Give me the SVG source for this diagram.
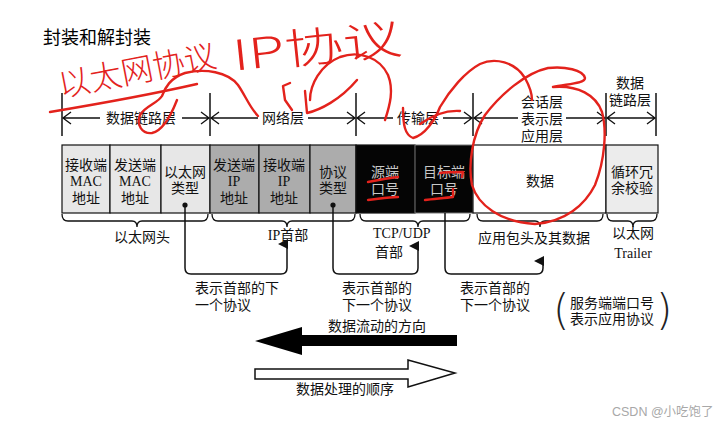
<svg xmlns="http://www.w3.org/2000/svg" width="723" height="422" viewBox="0 0 723 422">
<style>
  text { font-family: "Liberation Serif", "Noto Sans CJK SC", serif; font-size: 14px; fill: #111; }
  .c { text-anchor: middle; }
  .inv { fill: #c8c8c8; }
  .title { font-family: "Noto Sans CJK SC", "Liberation Sans", sans-serif; font-size: 18px; font-weight: 400; fill: #000; }
  .wm { font-family: "Liberation Sans", "Noto Sans CJK SC", sans-serif; font-size: 12.5px; fill: #a8a8a8; }
  .hand { font-family: "Noto Sans CJK SC", sans-serif; font-weight: 300; fill: #e3221c; }
  .paren { font-family: "DejaVu Sans", sans-serif; font-size: 42px; font-weight: 200; fill: #222; }
  .ln { stroke: #111; stroke-width: 1.3; fill: none; }
  .tick { stroke: #111; stroke-width: 1.5; }
  .brace { stroke: #111; stroke-width: 1.3; fill: none; }
  .red { stroke: #e3221c; stroke-width: 2.4; fill: none; stroke-linecap: round; stroke-linejoin: round; }
  .conn { stroke: #111; stroke-width: 1.5; fill: none; }
</style>
<defs>
  <marker id="ah" markerWidth="10" markerHeight="10" refX="5" refY="9" orient="auto-start-reverse" markerUnits="userSpaceOnUse" viewBox="0 0 10 10">
    <path d="M0,10 L5,0 L10,10 Z" fill="#111"/>
  </marker>
</defs>
<rect width="723" height="422" fill="#fff"/>

<text class="title" x="43" y="44">封装和解封装</text>

<!-- layer header -->
<g id="layers">
  <g class="tick">
    <line x1="62" y1="93" x2="62" y2="136"/>
    <line x1="210" y1="93" x2="210" y2="136"/>
    <line x1="356" y1="93" x2="356" y2="136"/>
    <line x1="473" y1="93" x2="473" y2="136"/>
    <line x1="606" y1="93" x2="606" y2="136"/>
    <line x1="656" y1="93" x2="656" y2="136"/>
  </g>
  <g class="ln">
    <path d="M63,118 H100 M71,112 L63,118 L71,124"/>
    <path d="M182,118 H209 M201,112 L209,118 L201,124"/>
    <path d="M211,118 H258 M219,112 L211,118 L219,124"/>
    <path d="M308,118 H355 M347,112 L355,118 L347,124"/>
    <path d="M357,118 H393 M365,112 L357,118 L365,124"/>
    <path d="M443,118 H472 M464,112 L472,118 L464,124"/>
    <path d="M474,118 H518 M482,112 L474,118 L482,124"/>
    <path d="M566,118 H605 M597,112 L605,118 L597,124"/>
    <path d="M607,118 H655 M615,112 L607,118 L615,124 M647,112 L655,118 L647,124"/>
  </g>
  <text class="c" x="141" y="123">数据链路层</text>
  <text class="c" x="283" y="123">网络层</text>
  <text class="c" x="418" y="123">传输层</text>
  <text class="c" x="542" y="107">会话层</text>
  <text class="c" x="542" y="124">表示层</text>
  <text class="c" x="542" y="141">应用层</text>
  <text class="c" x="630" y="88">数据</text>
  <text class="c" x="630" y="105">链路层</text>
</g>

<!-- packet cells -->
<g id="cell-dst-mac">
  <rect x="62" y="145" width="48" height="68" fill="#e7e7e7" stroke="#111" stroke-width="1.2"/>
  <text class="c" x="86" y="170">接收端</text><text class="c" x="86" y="186">MAC</text><text class="c" x="86" y="203">地址</text>
</g>
<g id="cell-src-mac">
  <rect x="110" y="145" width="51" height="68" fill="#e7e7e7" stroke="#111" stroke-width="1.2"/>
  <text class="c" x="135" y="170">发送端</text><text class="c" x="135" y="186">MAC</text><text class="c" x="135" y="203">地址</text>
</g>
<g id="cell-eth-type">
  <rect x="161" y="145" width="49" height="68" fill="#e7e7e7" stroke="#111" stroke-width="1.2"/>
  <text class="c" x="185" y="177">以太网</text><text class="c" x="185" y="193">类型</text>
  <circle cx="185" cy="205" r="2.6" fill="#111"/>
</g>
<g id="cell-src-ip">
  <rect x="210" y="145" width="49" height="68" fill="#acacac" stroke="#111" stroke-width="1.2"/>
  <text class="c" x="234" y="170">发送端</text><text class="c" x="234" y="186">IP</text><text class="c" x="234" y="203">地址</text>
</g>
<g id="cell-dst-ip">
  <rect x="259" y="145" width="51" height="68" fill="#acacac" stroke="#111" stroke-width="1.2"/>
  <text class="c" x="284" y="170">接收端</text><text class="c" x="284" y="186">IP</text><text class="c" x="284" y="203">地址</text>
</g>
<g id="cell-proto">
  <rect x="310" y="145" width="46" height="68" fill="#acacac" stroke="#111" stroke-width="1.2"/>
  <text class="c" x="333" y="177">协议</text><text class="c" x="333" y="193">类型</text>
  <circle cx="333" cy="205" r="2.6" fill="#111"/>
</g>
<g id="cell-src-port">
  <rect x="356" y="145" width="59" height="68" fill="#050505" stroke="#111" stroke-width="1.2"/>
  <text class="c inv" x="385" y="177">源端</text><text class="c inv" x="385" y="194">口号</text>
</g>
<g id="cell-dst-port">
  <rect x="415" y="145" width="58" height="68" fill="#050505" stroke="#777" stroke-width="1"/>
  <text class="c inv" x="444" y="177">目标端</text><text class="c inv" x="444" y="194">口号</text>
</g>
<g id="cell-data">
  <rect x="473" y="145" width="133" height="68" fill="#fff" stroke="#111" stroke-width="1.2"/>
  <text class="c" x="540" y="186">数据</text>
</g>
<g id="cell-crc">
  <rect x="606" y="145" width="52" height="68" fill="#ececec" stroke="#111" stroke-width="1.2"/>
  <text class="c" x="632" y="177">循环冗</text><text class="c" x="632" y="193">余校验</text>
</g>

<!-- braces and group labels -->
<g id="groups">
  <path class="brace" d="M62,214 Q62,221 68,221 H132 Q137,221 137,227 Q137,221 142,221 H202 Q208,221 208,214"/>
  <path class="brace" d="M212,214 Q212,221 218,221 H282 Q287,221 287,227 Q287,221 292,221 H349 Q355,221 355,214"/>
  <path class="brace" d="M360,214 Q360,221 366,221 H413 Q418,221 418,227 Q418,221 423,221 H464 Q470,221 470,214"/>
  <path class="brace" d="M477,214 Q477,221 483,221 H535 Q540,221 540,227 Q540,221 545,221 H597 Q603,221 603,214"/>
  <path class="brace" d="M607,214 Q607,221 613,221 H628 Q633,221 633,227 Q633,221 638,221 H651 Q657,221 657,214"/>
  <text class="c" x="142" y="242">以太网头</text>
  <text class="c" x="288" y="240">IP首部</text>
  <text x="373" y="238">TCP/UDP</text>
  <text x="375" y="257">首部</text>
  <text class="c" x="534" y="243">应用包头及其数据</text>
  <text class="c" x="633" y="238">以太网</text>
  <text class="c" x="633" y="258">Trailer</text>
</g>

<!-- connectors -->
<g id="connectors">
  <path class="conn" d="M185,205 V268 Q185,274 191,274 H281 Q287,274 287,268 V244" marker-end="url(#ah)"/>
  <path class="conn" d="M333,205 V268 Q333,274 339,274 H412 Q418,274 418,268 V246" marker-end="url(#ah)"/>
  <path class="conn" d="M445,213 V268 Q445,274 451,274 H537 Q543,274 543,268 V261" marker-end="url(#ah)"/>
</g>
<g id="notes">
  <text x="195" y="293">表示首部的下</text>
  <text x="195" y="310">一个协议</text>
  <text x="342" y="293">表示首部的</text>
  <text x="342" y="310">下一个协议</text>
  <text x="460" y="293">表示首部的</text>
  <text x="460" y="310">下一个协议</text>
  <text class="paren" x="553" y="325">(</text>
  <text x="570" y="308">服务端端口号</text>
  <text x="570" y="324">表示应用协议</text>
  <text class="paren" x="656" y="325">)</text>
</g>

<!-- flow arrows -->
<g id="flow-arrow">
  <polygon points="255,341 302,327 302,335 457,335 457,346 302,346 302,355" fill="#000"/>
  <text class="c" x="377" y="331">数据流动的方向</text>
</g>
<g id="process-arrow">
  <polygon points="255,369 408,369 408,360 455,373 408,387 408,379 255,379" fill="#fff" stroke="#111" stroke-width="1.5"/>
  <text class="c" x="345" y="394">数据处理的顺序</text>
</g>

<!-- red handwritten annotations -->
<g id="annotations">
  <text class="hand" x="137" y="82" text-anchor="middle" style="font-size:32px" textLength="160" lengthAdjust="spacingAndGlyphs" transform="rotate(-11 137 70)">以太网协议</text>
  <text class="hand" x="317" y="62" text-anchor="middle" style="font-size:42px" textLength="170" lengthAdjust="spacingAndGlyphs" transform="rotate(-6 317 46)">IP协议</text>
  <path class="red" d="M50,112 C80,107 140,97 197,84"/>
  <path class="red" d="M258,116 C250,108 245,95 238,85 C228,72 205,68 185,73 C170,78 165,88 162,96 C158,103 145,106 140,115 C136,125 142,134 152,133 C162,131 170,118 177,100"/>
  <path class="red" d="M290,83 L283,86 L285,100 L292,110"/>
  <path class="red" d="M305,91 L307,113 C320,110 340,100 357,80"/>
  <path class="red" d="M310,100 C310,85 320,65 340,57 C360,50 380,58 388,75 C394,90 390,105 385,120"/>
  <path class="red" d="M403,108 C403,125 405,135 413,138 C425,135 435,120 440,107 C450,90 465,72 480,64 C495,57 515,62 525,78 C530,87 532,95 532,100"/>
  <path class="red" d="M420,124 C430,117 445,110 460,111"/>
  <path class="red" d="M553,87 C565,84 585,84 585,78 C583,70 565,66 548,68 C525,73 500,95 485,115 C472,135 468,165 472,185 C478,205 500,222 535,224 C565,222 585,205 595,185 C605,160 607,130 602,112 C596,95 578,85 553,87"/>
  <path class="red" d="M368,182 C378,180 388,178 398,177"/>
  <path class="red" d="M368,200 C378,199 388,197 398,197"/>
  <path class="red" d="M440,173 C448,172 456,172 463,172 L462,177"/>
  <path class="red" d="M425,200 C433,199 445,198 453,197 L453,189"/>
</g>

<text class="wm" x="612" y="416">CSDN @小吃饱了</text>
</svg>
